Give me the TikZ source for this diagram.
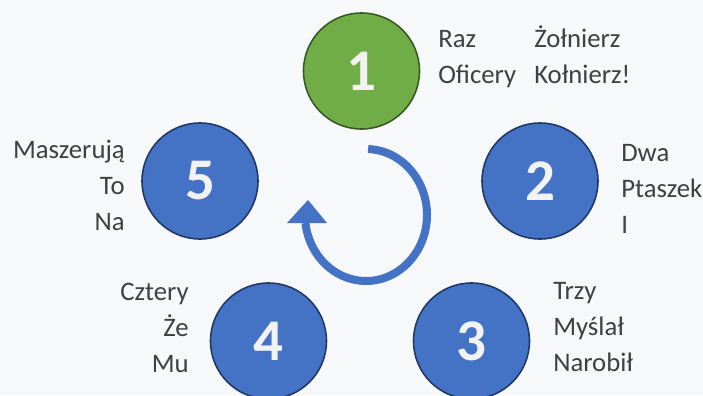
\documentclass[tikz,border=0pt]{standalone}
\usepackage{fontspec}
\setmainfont{Carlito}
\usepackage{xcolor}
\usetikzlibrary{positioning}

\definecolor{bgcol}{HTML}{F7F8FA}
\definecolor{stepblue}{HTML}{4472C4}
\definecolor{stepedge}{HTML}{1F3864}
\definecolor{stepgreen}{HTML}{70AD47}
\definecolor{greenedge}{HTML}{385723}
\definecolor{txtgray}{HTML}{404040}
\definecolor{numwhite}{HTML}{F2F2F2}

\begin{document}
\begin{tikzpicture}[x=0.025cm,y=0.025cm]
  \tikzstyle{every num}=[circle,draw=stepedge,fill=stepblue,line width=1.1pt,
    minimum size=2.9cm,inner sep=0pt,text=numwhite,
    font=\fontsize{42}{42}\selectfont\bfseries]
  \tikzstyle{num}=[every num]
  \tikzstyle{firstnum}=[every num,draw=greenedge,fill=stepgreen]
  \tikzstyle{words}=[inner sep=0pt,text=txtgray,font=\fontsize{19}{25.3}\selectfont]

  \useasboundingbox (0,0) rectangle (703,-395);
  \fill[bgcol] (0,0) rectangle (703,-395);

  \node[firstnum] (n_1) at (361.5,-71)  {1};
  \node[num]      (n_2) at (540,-181)   {2};
  \node[num]      (n_3) at (471.5,-341) {3};
  \node[num]      (n_4) at (268.5,-341) {4};
  \node[num]      (n_5) at (200,-181)   {5};

  % anchors sit on the last line
  \node[words,anchor=base west,align=left]  (w_1a) at (438,-83)  {Raz\\Oficery};
  \node[words,anchor=base west,align=left]  (w_1b) at (534,-83)  {Żołnierz\\Kołnierz!};
  \node[words,anchor=base west,align=left]  (w_2)  at (621,-233) {Dwa\\Ptaszek\\I};
  \node[words,anchor=base west,align=left]  (w_3)  at (553,-371) {Trzy\\Myślał\\Narobił};
  \node[words,anchor=base east,align=right] (w_4)  at (189,-372) {Cztery\\Że\\Mu};
  \node[words,anchor=base east,align=right] (w_5)  at (125,-230) {Maszerują\\To\\Na};

  % turning arrow in the middle
  \coordinate (c) at (366,-215);
  \draw[stepblue,line width=0.2cm] ([shift={(88:61 and 66)}]c)
    arc[start angle=88,end angle=-173,x radius=61,y radius=66];
  \fill[stepblue] (287,-223) -- (308,-200) -- (327,-223) -- cycle;
\end{tikzpicture}
\end{document}
